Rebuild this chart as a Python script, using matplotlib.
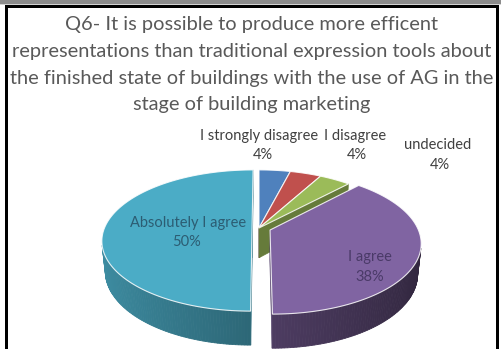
import numpy as np
import matplotlib
matplotlib.use("Agg")
import matplotlib.pyplot as plt
from matplotlib.patches import Polygon, Rectangle
from matplotlib.colors import to_rgb

# ---- data -------------------------------------------------------------
title_lines = [
    "Q6- It is possible to produce more efficent",
    "representations than traditional expression tools about",
    "the finished state of buildings with the use of AG in the",
    "stage of building marketing",
]
categories = ["I strongly disagree", "I disagree", "undecided",
              "I agree", "Absolutely I agree"]
shares = [4, 4, 4, 38, 50]
slice_colors = ["#4F81BD", "#C0504D", "#9BBB59", "#8064A2", "#4BACC6"]
explode = [0.0, 0.0, 0.0, 0.08, 0.047]

# ---- figure in pixel units ---------------------------------------------
W, H = 502, 349
fig = plt.figure(figsize=(W / 100, H / 100), dpi=100)
ax = fig.add_axes([0, 0, 1, 1])
ax.set_xlim(0, W)
ax.set_ylim(H, 0)
ax.axis("off")

FONT = "Lato"

# frame
ax.add_patch(Rectangle((0, 0), W, 3.5, color="#8c8c8c", lw=0, zorder=5))
ax.add_patch(Rectangle((0, 3.5), W, 1.8, color="#d4d4d4", lw=0, zorder=5))
ax.add_patch(Rectangle((5.5, 5.3), W - 11.5, 2.2, color="black", lw=0, zorder=5))
ax.add_patch(Rectangle((5.5, 5.3), 2.4, H, color="black", lw=0, zorder=5))
ax.add_patch(Rectangle((W - 5.5, 5.3), 2.4, H, color="black", lw=0, zorder=5))

# ---- 3D pie projection -------------------------------------------------
phi = np.radians(27.6)
sp, cp = np.sin(phi), np.cos(phi)
DIST = 5.0        # camera distance (in radii)
FOC = 738.0       # focal scale (pixels)
CX, CY = 259.0, 228.0
THICK = 0.233     # pie thickness (in radii)
cam = np.array([0.0, -DIST * cp, DIST * sp])   # (x, z, h)


def proj(x, z, h):
    x = np.asarray(x, float)
    z = np.asarray(z, float)
    h = np.asarray(h, float)
    Y = z * sp + h * cp
    Zc = DIST + z * cp - h * sp
    return CX + FOC * x / Zc, CY - FOC * Y / Zc


def shade(color, f):
    r, g, b = to_rgb(color)
    return (r * f, g * f, b * f)


vals = np.array(shares, float)
bounds = np.concatenate([[0], np.cumsum(vals) / vals.sum()]) * 2 * np.pi
order = sorted(range(len(vals)),
               key=lambda i: -np.cos((bounds[i] + bounds[i + 1]) / 2))

z_base = 10
for rank, i in enumerate(order):
    t0, t1 = bounds[i], bounds[i + 1]
    mid = (t0 + t1) / 2
    ox, oz = explode[i] * np.sin(mid), explode[i] * np.cos(mid)
    col = slice_colors[i]
    zo = z_base + rank * 3
    n = max(8, int((t1 - t0) / (2 * np.pi) * 360))
    th = np.linspace(t0, t1, n + 1)
    rx, rz = ox + np.sin(th), oz + np.cos(th)

    # radial faces
    for tt, nrm in ((t0, (-np.cos(t0), np.sin(t0))),
                    (t1, (np.cos(t1), -np.sin(t1)))):
        px, pz = ox + 0.5 * np.sin(tt), oz + 0.5 * np.cos(tt)
        d = nrm[0] * (cam[0] - px) + nrm[1] * (cam[1] - pz)
        if d > 0:
            xs = [ox, ox + np.sin(tt), ox + np.sin(tt), ox]
            zs = [oz, oz + np.cos(tt), oz + np.cos(tt), oz]
            hs = [0, 0, -THICK, -THICK]
            sx, sy = proj(xs, zs, hs)
            ax.add_patch(Polygon(np.column_stack([sx, sy]), closed=True,
                                 fc=shade(col, 0.66), ec=shade(col, 0.66),
                                 lw=0.4, zorder=zo))

    # outer wall, in thin shaded strips
    for k in range(n):
        a, b = th[k], th[k + 1]
        tm = (a + b) / 2
        vis = (np.sin(tm) * (cam[0] - ox - np.sin(tm))
               + np.cos(tm) * (cam[1] - oz - np.cos(tm)))
        if vis <= 0:
            continue
        xs = [ox + np.sin(a), ox + np.sin(b), ox + np.sin(b), ox + np.sin(a)]
        zs = [oz + np.cos(a), oz + np.cos(b), oz + np.cos(b), oz + np.cos(a)]
        hs = [0, 0, -THICK, -THICK]
        sx, sy = proj(xs, zs, hs)
        fcol = shade(col, 0.6 - 0.22 * np.sin(tm))
        ax.add_patch(Polygon(np.column_stack([sx, sy]), closed=True,
                             fc=fcol, ec=fcol, lw=0.6, zorder=zo + 1))

    # top face
    sx, sy = proj(np.concatenate([[ox], rx]), np.concatenate([[oz], rz]),
                  np.zeros(n + 2))
    ax.add_patch(Polygon(np.column_stack([sx, sy]), closed=True,
                         fc=col, ec=(1, 1, 1, 0.85), lw=0.8,
                         joinstyle="round", zorder=zo + 2))

# ---- text ---------------------------------------------------------------
renderer = fig.canvas.get_renderer()


def fit_size(text, width_px, base=12.0):
    t = ax.text(0, 0, text, fontsize=base, family=FONT)
    w = t.get_window_extent(renderer=renderer).width
    t.remove()
    return base * width_px / w


title_size = fit_size(title_lines[1], 479)
for line, base_y in zip(title_lines, [30, 57, 84, 110]):
    ax.text(W / 2 + 1, base_y, line, ha="center", va="baseline",
            fontsize=title_size, family=FONT, color="#595959", zorder=30)

label_size = fit_size(categories[0], 117)
label_pos = {
    "I strongly disagree": (259, 140, 263, 159),
    "I disagree": (355, 140, 357, 159),
    "undecided": (438, 149, 440, 169),
    "I agree": (370, 261, 370, 281),
    "Absolutely I agree": (188, 227, 187, 246),
}
label_col = {
    "I agree": "#4a3a68",
    "Absolutely I agree": "#2c5d73",
}
for name, v in zip(categories, shares):
    x1, y1, x2, y2 = label_pos[name]
    c = label_col.get(name, "#404040")
    ax.text(x1, y1, name, ha="center", va="baseline", fontsize=label_size,
            family=FONT, color=c, zorder=40)
    ax.text(x2, y2, f"{v}%", ha="center", va="baseline", fontsize=label_size,
            family=FONT, color=c, zorder=40)

fig.savefig("out.png", dpi=100)
